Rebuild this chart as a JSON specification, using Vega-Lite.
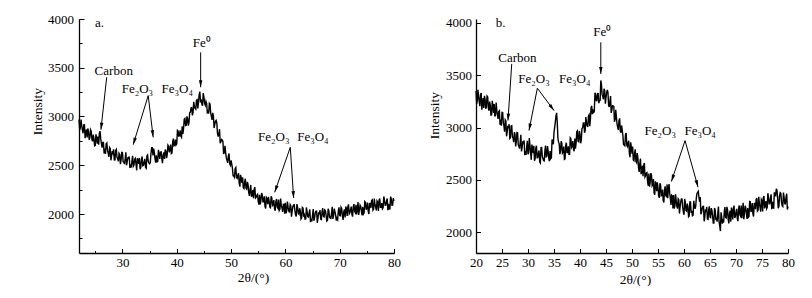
{
"$schema": "https://vega.github.io/schema/vega-lite/v6.json",
"padding": {"left": 30, "top": 13, "right": 0, "bottom": 0},
"bounds": "flush",
"spacing": 82,
"config": {
  "view": {"stroke": null},
  "font": "Liberation Serif",
  "axis": {"grid": false, "domainColor": "black", "domainWidth": 1.3, "tickColor": "black", "tickWidth": 1, "labelColor": "black", "titleColor": "black", "labelFont": "Liberation Serif", "titleFont": "Liberation Serif", "labelFontSize": 13, "titleFontSize": 13.5, "titleFontWeight": "normal", "labelFlush": false, "labelOverlap": false}
},
"datasets": {
  "a": [{"x":22,"y":2970},{"x":22.25,"y":2887},{"x":22.5,"y":2910},{"x":22.75,"y":2828},{"x":23,"y":2915},{"x":23.25,"y":2835},{"x":23.5,"y":2785},{"x":23.75,"y":2845},{"x":24,"y":2780},{"x":24.25,"y":2850},{"x":24.5,"y":2745},{"x":24.75,"y":2775},{"x":25,"y":2705},{"x":25.25,"y":2780},{"x":25.5,"y":2795},{"x":25.75,"y":2830},{"x":26,"y":2770},{"x":26.25,"y":2680},{"x":26.5,"y":2735},{"x":26.75,"y":2670},{"x":27,"y":2720},{"x":27.25,"y":2652},{"x":27.5,"y":2585},{"x":27.75,"y":2672},{"x":28,"y":2595},{"x":28.25,"y":2627},{"x":28.5,"y":2555},{"x":28.75,"y":2652},{"x":29,"y":2580},{"x":29.25,"y":2540},{"x":29.5,"y":2610},{"x":29.75,"y":2555},{"x":30,"y":2630},{"x":30.25,"y":2530},{"x":30.5,"y":2565},{"x":30.75,"y":2500},{"x":31,"y":2575},{"x":31.25,"y":2590},{"x":31.5,"y":2510},{"x":31.75,"y":2545},{"x":32,"y":2490},{"x":32.25,"y":2562},{"x":32.5,"y":2510},{"x":32.75,"y":2572},{"x":33,"y":2515},{"x":33.25,"y":2460},{"x":33.5,"y":2560},{"x":33.75,"y":2495},{"x":34,"y":2535},{"x":34.25,"y":2480},{"x":34.5,"y":2595},{"x":34.75,"y":2540},{"x":35,"y":2515},{"x":35.25,"y":2620},{"x":35.5,"y":2680},{"x":35.75,"y":2670},{"x":36,"y":2565},{"x":36.25,"y":2602},{"x":36.5,"y":2540},{"x":36.75,"y":2617},{"x":37,"y":2635},{"x":37.25,"y":2565},{"x":37.5,"y":2610},{"x":37.75,"y":2565},{"x":38,"y":2645},{"x":38.25,"y":2612},{"x":38.5,"y":2695},{"x":38.75,"y":2657},{"x":39,"y":2620},{"x":39.25,"y":2742},{"x":39.5,"y":2700},{"x":39.75,"y":2762},{"x":40,"y":2720},{"x":40.25,"y":2850},{"x":40.5,"y":2810},{"x":40.75,"y":2800},{"x":41,"y":2900},{"x":41.25,"y":2875},{"x":41.5,"y":2980},{"x":41.75,"y":2910},{"x":42,"y":2975},{"x":42.25,"y":2940},{"x":42.5,"y":3045},{"x":42.75,"y":3090},{"x":43,"y":3040},{"x":43.25,"y":3102},{"x":43.5,"y":3075},{"x":43.75,"y":3172},{"x":44,"y":3145},{"x":44.25,"y":3255},{"x":44.5,"y":3175},{"x":44.75,"y":3110},{"x":45,"y":3200},{"x":45.25,"y":3115},{"x":45.5,"y":3135},{"x":45.75,"y":3050},{"x":46,"y":3135},{"x":46.25,"y":3035},{"x":46.5,"y":2965},{"x":46.75,"y":3005},{"x":47,"y":2920},{"x":47.25,"y":2960},{"x":47.5,"y":2825},{"x":47.75,"y":2825},{"x":48,"y":2725},{"x":48.25,"y":2765},{"x":48.5,"y":2745},{"x":48.75,"y":2630},{"x":49,"y":2630},{"x":49.25,"y":2550},{"x":49.5,"y":2595},{"x":49.75,"y":2515},{"x":50,"y":2550},{"x":50.25,"y":2470},{"x":50.5,"y":2390},{"x":50.75,"y":2465},{"x":51,"y":2375},{"x":51.25,"y":2397},{"x":51.5,"y":2315},{"x":51.75,"y":2402},{"x":52,"y":2320},{"x":52.25,"y":2270},{"x":52.5,"y":2330},{"x":52.75,"y":2265},{"x":53,"y":2330},{"x":53.25,"y":2222},{"x":53.5,"y":2250},{"x":53.75,"y":2177},{"x":54,"y":2245},{"x":54.25,"y":2252},{"x":54.5,"y":2165},{"x":54.75,"y":2192},{"x":55,"y":2130},{"x":55.25,"y":2197},{"x":55.5,"y":2140},{"x":55.75,"y":2197},{"x":56,"y":2135},{"x":56.25,"y":2075},{"x":56.5,"y":2170},{"x":56.75,"y":2100},{"x":57,"y":2135},{"x":57.25,"y":2065},{"x":57.5,"y":2165},{"x":57.75,"y":2095},{"x":58,"y":2055},{"x":58.25,"y":2126},{"x":58.5,"y":2072},{"x":58.75,"y":2149},{"x":59,"y":2050},{"x":59.25,"y":2086},{"x":59.5,"y":2022},{"x":59.75,"y":2099},{"x":60,"y":2115},{"x":60.25,"y":2035},{"x":60.5,"y":2070},{"x":60.75,"y":2015},{"x":61,"y":2085},{"x":61.25,"y":2031},{"x":61.5,"y":2092},{"x":61.75,"y":2034},{"x":62,"y":1975},{"x":62.25,"y":2069},{"x":62.5,"y":1997},{"x":62.75,"y":2031},{"x":63,"y":1960},{"x":63.25,"y":2060},{"x":63.5,"y":1990},{"x":63.75,"y":1950},{"x":64,"y":2020},{"x":64.25,"y":1969},{"x":64.5,"y":2047},{"x":64.75,"y":1951},{"x":65,"y":1990},{"x":65.25,"y":1930},{"x":65.5,"y":2010},{"x":65.75,"y":2030},{"x":66,"y":1955},{"x":66.25,"y":1996},{"x":66.5,"y":1947},{"x":66.75,"y":2024},{"x":67,"y":1975},{"x":67.25,"y":2041},{"x":67.5,"y":1987},{"x":67.75,"y":1934},{"x":68,"y":2035},{"x":68.25,"y":1971},{"x":68.5,"y":2012},{"x":68.75,"y":1949},{"x":69,"y":2055},{"x":69.25,"y":1991},{"x":69.5,"y":1957},{"x":69.75,"y":2034},{"x":70,"y":1985},{"x":70.25,"y":2069},{"x":70.5,"y":1977},{"x":70.75,"y":2021},{"x":71,"y":1965},{"x":71.25,"y":2049},{"x":71.5,"y":2072},{"x":71.75,"y":2001},{"x":72,"y":2045},{"x":72.25,"y":1997},{"x":72.5,"y":2075},{"x":72.75,"y":2027},{"x":73,"y":2095},{"x":73.25,"y":2042},{"x":73.5,"y":1990},{"x":73.75,"y":2092},{"x":74,"y":2030},{"x":74.25,"y":2074},{"x":74.5,"y":2012},{"x":74.75,"y":2121},{"x":75,"y":2060},{"x":75.25,"y":2029},{"x":75.5,"y":2107},{"x":75.75,"y":2061},{"x":76,"y":2145},{"x":76.25,"y":2052},{"x":76.5,"y":2095},{"x":76.75,"y":2037},{"x":77,"y":2120},{"x":77.25,"y":2142},{"x":77.5,"y":2070},{"x":77.75,"y":2112},{"x":78,"y":2065},{"x":78.25,"y":2141},{"x":78.5,"y":2092},{"x":78.75,"y":2159},{"x":79,"y":2105},{"x":79.25,"y":2052},{"x":79.5,"y":2155},{"x":79.75,"y":2092},{"x":80,"y":2135},
{"x":22.125,"y":2861},{"x":22.375,"y":2968},{"x":22.625,"y":2861},{"x":22.875,"y":2914},{"x":23.125,"y":2777},{"x":23.375,"y":2867},{"x":23.625,"y":2877},{"x":23.875,"y":2762},{"x":24.125,"y":2865},{"x":24.375,"y":2765},{"x":24.625,"y":2815},{"x":24.875,"y":2700},{"x":25.125,"y":2817},{"x":25.375,"y":2722},{"x":25.625,"y":2710},{"x":25.875,"y":2850},{"x":26.125,"y":2725},{"x":26.375,"y":2735},{"x":26.625,"y":2622},{"x":26.875,"y":2617},{"x":27.125,"y":2728},{"x":27.375,"y":2626},{"x":27.625,"y":2683},{"x":27.875,"y":2551},{"x":28.125,"y":2646},{"x":28.375,"y":2663},{"x":28.625,"y":2556},{"x":28.875,"y":2663},{"x":29.125,"y":2567},{"x":29.375,"y":2622},{"x":29.625,"y":2512},{"x":29.875,"y":2632},{"x":30.125,"y":2537},{"x":30.375,"y":2512},{"x":30.625,"y":2632},{"x":30.875,"y":2537},{"x":31.125,"y":2572},{"x":31.375,"y":2472},{"x":31.625,"y":2477},{"x":31.875,"y":2597},{"x":32.125,"y":2503},{"x":32.375,"y":2571},{"x":32.625,"y":2448},{"x":32.875,"y":2551},{"x":33.125,"y":2575},{"x":33.375,"y":2475},{"x":33.625,"y":2590},{"x":33.875,"y":2500},{"x":34.125,"y":2565},{"x":34.375,"y":2470},{"x":34.625,"y":2605},{"x":34.875,"y":2525},{"x":35.125,"y":2525},{"x":35.375,"y":2680},{"x":35.625,"y":2600},{"x":35.875,"y":2630},{"x":36.125,"y":2528},{"x":36.375,"y":2536},{"x":36.625,"y":2658},{"x":36.875,"y":2566},{"x":37.125,"y":2637},{"x":37.375,"y":2522},{"x":37.625,"y":2632},{"x":37.875,"y":2662},{"x":38.125,"y":2573},{"x":38.375,"y":2706},{"x":38.625,"y":2633},{"x":38.875,"y":2711},{"x":39.125,"y":2626},{"x":39.375,"y":2773},{"x":39.625,"y":2706},{"x":39.875,"y":2708},{"x":40.125,"y":2857},{"x":40.375,"y":2792},{"x":40.625,"y":2857},{"x":40.875,"y":2787},{"x":41.125,"y":2822},{"x":41.375,"y":2972},{"x":41.625,"y":2907},{"x":41.875,"y":3002},{"x":42.125,"y":2907},{"x":42.375,"y":3037},{"x":42.625,"y":3087},{"x":42.875,"y":3012},{"x":43.125,"y":3151},{"x":43.375,"y":3083},{"x":43.625,"y":3166},{"x":43.875,"y":3083},{"x":44.125,"y":3225},{"x":44.375,"y":3145},{"x":44.625,"y":3125},{"x":44.875,"y":3240},{"x":45.125,"y":3135},{"x":45.375,"y":3155},{"x":45.625,"y":3040},{"x":45.875,"y":3030},{"x":46.125,"y":3127},{"x":46.375,"y":3002},{"x":46.625,"y":3037},{"x":46.875,"y":2882},{"x":47.125,"y":2950},{"x":47.375,"y":2935},{"x":47.625,"y":2795},{"x":47.875,"y":2870},{"x":48.125,"y":2740},{"x":48.375,"y":2760},{"x":48.625,"y":2615},{"x":48.875,"y":2700},{"x":49.125,"y":2575},{"x":49.375,"y":2525},{"x":49.625,"y":2620},{"x":49.875,"y":2500},{"x":50.125,"y":2512},{"x":50.375,"y":2392},{"x":50.625,"y":2377},{"x":50.875,"y":2477},{"x":51.125,"y":2366},{"x":51.375,"y":2418},{"x":51.625,"y":2281},{"x":51.875,"y":2368},{"x":52.125,"y":2377},{"x":52.375,"y":2262},{"x":52.625,"y":2362},{"x":52.875,"y":2257},{"x":53.125,"y":2303},{"x":53.375,"y":2186},{"x":53.625,"y":2298},{"x":53.875,"y":2196},{"x":54.125,"y":2163},{"x":54.375,"y":2276},{"x":54.625,"y":2173},{"x":54.875,"y":2201},{"x":55.125,"y":2096},{"x":55.375,"y":2098},{"x":55.625,"y":2216},{"x":55.875,"y":2118},{"x":56.125,"y":2182},{"x":56.375,"y":2057},{"x":56.625,"y":2157},{"x":56.875,"y":2177},{"x":57.125,"y":2072},{"x":57.375,"y":2182},{"x":57.625,"y":2087},{"x":57.875,"y":2142},{"x":58.125,"y":2033},{"x":58.375,"y":2154},{"x":58.625,"y":2060},{"x":58.875,"y":2037},{"x":59.125,"y":2158},{"x":59.375,"y":2064},{"x":59.625,"y":2100},{"x":59.875,"y":2002},{"x":60.125,"y":2007},{"x":60.375,"y":2127},{"x":60.625,"y":2032},{"x":60.875,"y":2097},{"x":61.125,"y":1973},{"x":61.375,"y":2074},{"x":61.625,"y":2095},{"x":61.875,"y":1992},{"x":62.125,"y":2102},{"x":62.375,"y":2005},{"x":62.625,"y":2059},{"x":62.875,"y":1948},{"x":63.125,"y":2067},{"x":63.375,"y":1972},{"x":63.625,"y":1947},{"x":63.875,"y":2067},{"x":64.125,"y":1974},{"x":64.375,"y":2013},{"x":64.625,"y":1916},{"x":64.875,"y":1925},{"x":65.125,"y":2050},{"x":65.375,"y":1960},{"x":65.625,"y":2030},{"x":65.875,"y":1910},{"x":66.125,"y":2016},{"x":66.375,"y":2041},{"x":66.625,"y":1943},{"x":66.875,"y":2059},{"x":67.125,"y":1970},{"x":67.375,"y":2032},{"x":67.625,"y":1928},{"x":67.875,"y":2054},{"x":68.125,"y":1965},{"x":68.375,"y":1947},{"x":68.625,"y":2073},{"x":68.875,"y":1984},{"x":69.125,"y":2025},{"x":69.375,"y":1932},{"x":69.625,"y":1943},{"x":69.875,"y":2069},{"x":70.125,"y":1982},{"x":70.375,"y":2055},{"x":70.625,"y":1939},{"x":70.875,"y":2048},{"x":71.125,"y":2077},{"x":71.375,"y":1981},{"x":71.625,"y":2099},{"x":71.875,"y":2013},{"x":72.125,"y":2076},{"x":72.375,"y":1973},{"x":72.625,"y":2101},{"x":72.875,"y":2013},{"x":73.125,"y":1996},{"x":73.375,"y":2123},{"x":73.625,"y":2036},{"x":73.875,"y":2078},{"x":74.125,"y":1987},{"x":74.375,"y":2000},{"x":74.625,"y":2129},{"x":74.875,"y":2043},{"x":75.125,"y":2117},{"x":75.375,"y":2000},{"x":75.625,"y":2109},{"x":75.875,"y":2138},{"x":76.125,"y":2041},{"x":76.375,"y":2158},{"x":76.625,"y":2071},{"x":76.875,"y":2133},{"x":77.125,"y":2031},{"x":77.375,"y":2158},{"x":77.625,"y":2071},{"x":77.875,"y":2053},{"x":78.125,"y":2180},{"x":78.375,"y":2091},{"x":78.625,"y":2133},{"x":78.875,"y":2039},{"x":79.125,"y":2051},{"x":79.375,"y":2178},{"x":79.625,"y":2091},{"x":79.875,"y":2163}],
  "b": [{"x":20,"y":3350},{"x":20.25,"y":3260},{"x":20.5,"y":3300},{"x":20.75,"y":3205},{"x":21,"y":3330},{"x":21.25,"y":3236},{"x":21.5,"y":3187},{"x":21.75,"y":3269},{"x":22,"y":3200},{"x":22.25,"y":3291},{"x":22.5,"y":3162},{"x":22.75,"y":3209},{"x":23,"y":3120},{"x":23.25,"y":3210},{"x":23.5,"y":3225},{"x":23.75,"y":3120},{"x":24,"y":3165},{"x":24.25,"y":3082},{"x":24.5,"y":3160},{"x":24.75,"y":3077},{"x":25,"y":3145},{"x":25.25,"y":3047},{"x":25.5,"y":2960},{"x":25.75,"y":3062},{"x":26,"y":2960},{"x":26.25,"y":2995},{"x":26.5,"y":2895},{"x":26.75,"y":3015},{"x":27,"y":2915},{"x":27.25,"y":2861},{"x":27.5,"y":2937},{"x":27.75,"y":2864},{"x":28,"y":2950},{"x":28.25,"y":2819},{"x":28.5,"y":2862},{"x":28.75,"y":2771},{"x":29,"y":2860},{"x":29.25,"y":2876},{"x":29.5,"y":2772},{"x":29.75,"y":2819},{"x":30,"y":2745},{"x":30.25,"y":2900},{"x":30.5,"y":2760},{"x":30.75,"y":2837},{"x":31,"y":2755},{"x":31.25,"y":2682},{"x":31.5,"y":2800},{"x":31.75,"y":2712},{"x":32,"y":2755},{"x":32.25,"y":2671},{"x":32.5,"y":2807},{"x":32.75,"y":2724},{"x":33,"y":2685},{"x":33.25,"y":2777},{"x":33.5,"y":2720},{"x":33.75,"y":2822},{"x":34,"y":2705},{"x":34.25,"y":2775},{"x":34.5,"y":2710},{"x":34.75,"y":2870},{"x":35,"y":2955},{"x":35.25,"y":3050},{"x":35.5,"y":3140},{"x":35.75,"y":2900},{"x":36,"y":2845},{"x":36.25,"y":2772},{"x":36.5,"y":2850},{"x":36.75,"y":2767},{"x":37,"y":2695},{"x":37.25,"y":2830},{"x":37.5,"y":2760},{"x":37.75,"y":2820},{"x":38,"y":2745},{"x":38.25,"y":2892},{"x":38.5,"y":2820},{"x":38.75,"y":2792},{"x":39,"y":2895},{"x":39.25,"y":2851},{"x":39.5,"y":2967},{"x":39.75,"y":2864},{"x":40,"y":2935},{"x":40.25,"y":2876},{"x":40.5,"y":2997},{"x":40.75,"y":3044},{"x":41,"y":2970},{"x":41.25,"y":3047},{"x":41.5,"y":3005},{"x":41.75,"y":3122},{"x":42,"y":3080},{"x":42.25,"y":3207},{"x":42.5,"y":3175},{"x":42.75,"y":3152},{"x":43,"y":3320},{"x":43.25,"y":3257},{"x":43.5,"y":3325},{"x":43.75,"y":3257},{"x":44,"y":3450},{"x":44.25,"y":3317},{"x":44.5,"y":3270},{"x":44.75,"y":3352},{"x":45,"y":3285},{"x":45.25,"y":3360},{"x":45.5,"y":3215},{"x":45.75,"y":3245},{"x":46,"y":3140},{"x":46.25,"y":3209},{"x":46.5,"y":3202},{"x":46.75,"y":3076},{"x":47,"y":3100},{"x":47.25,"y":3002},{"x":47.5,"y":3065},{"x":47.75,"y":2967},{"x":48,"y":3020},{"x":48.25,"y":2921},{"x":48.5,"y":2832},{"x":48.75,"y":2934},{"x":49,"y":2830},{"x":49.25,"y":2856},{"x":49.5,"y":2747},{"x":49.75,"y":2859},{"x":50,"y":2750},{"x":50.25,"y":2689},{"x":50.5,"y":2757},{"x":50.75,"y":2676},{"x":51,"y":2755},{"x":51.25,"y":2616},{"x":51.5,"y":2652},{"x":51.75,"y":2554},{"x":52,"y":2635},{"x":52.25,"y":2641},{"x":52.5,"y":2527},{"x":52.75,"y":2564},{"x":53,"y":2480},{"x":53.25,"y":2559},{"x":53.5,"y":2477},{"x":53.75,"y":2546},{"x":54,"y":2455},{"x":54.25,"y":2375},{"x":54.5,"y":2485},{"x":54.75,"y":2390},{"x":55,"y":2425},{"x":55.25,"y":2327},{"x":55.5,"y":2450},{"x":55.75,"y":2352},{"x":56,"y":2300},{"x":56.25,"y":2399},{"x":56.5,"y":2347},{"x":56.75,"y":2456},{"x":57,"y":2420},{"x":57.25,"y":2370},{"x":57.5,"y":2260},{"x":57.75,"y":2345},{"x":58,"y":2355},{"x":58.25,"y":2251},{"x":58.5,"y":2297},{"x":58.75,"y":2224},{"x":59,"y":2310},{"x":59.25,"y":2239},{"x":59.5,"y":2317},{"x":59.75,"y":2236},{"x":60,"y":2165},{"x":60.25,"y":2285},{"x":60.5,"y":2200},{"x":60.75,"y":2245},{"x":61,"y":2155},{"x":61.25,"y":2289},{"x":61.5,"y":2202},{"x":61.75,"y":2161},{"x":62,"y":2250},{"x":62.25,"y":2245},{"x":62.5,"y":2370},{"x":62.75,"y":2390},{"x":63,"y":2290},{"x":63.25,"y":2170},{"x":63.5,"y":2230},{"x":63.75,"y":2247},{"x":64,"y":2145},{"x":64.25,"y":2195},{"x":64.5,"y":2125},{"x":64.75,"y":2215},{"x":65,"y":2145},{"x":65.25,"y":2229},{"x":65.5,"y":2152},{"x":65.75,"y":2086},{"x":66,"y":2210},{"x":66.25,"y":2130},{"x":66.5,"y":2180},{"x":66.75,"y":2095},{"x":67,"y":2010},{"x":67.25,"y":2146},{"x":67.5,"y":2107},{"x":67.75,"y":2199},{"x":68,"y":2140},{"x":68.25,"y":2241},{"x":68.5,"y":2122},{"x":68.75,"y":2179},{"x":69,"y":2100},{"x":69.25,"y":2201},{"x":69.5,"y":2227},{"x":69.75,"y":2134},{"x":70,"y":2190},{"x":70.25,"y":2129},{"x":70.5,"y":2227},{"x":70.75,"y":2166},{"x":71,"y":2255},{"x":71.25,"y":2184},{"x":71.5,"y":2122},{"x":71.75,"y":2251},{"x":72,"y":2175},{"x":72.25,"y":2230},{"x":72.5,"y":2150},{"x":72.75,"y":2290},{"x":73,"y":2210},{"x":73.25,"y":2176},{"x":73.5,"y":2272},{"x":73.75,"y":2219},{"x":74,"y":2325},{"x":74.25,"y":2210},{"x":74.5,"y":2270},{"x":74.75,"y":2195},{"x":75,"y":2300},{"x":75.25,"y":2329},{"x":75.5,"y":2237},{"x":75.75,"y":2296},{"x":76,"y":2235},{"x":76.25,"y":2334},{"x":76.5,"y":2272},{"x":76.75,"y":2361},{"x":77,"y":2290},{"x":77.25,"y":2229},{"x":77.5,"y":2357},{"x":77.75,"y":2415},{"x":78,"y":2335},{"x":78.25,"y":2246},{"x":78.5,"y":2377},{"x":78.75,"y":2289},{"x":79,"y":2245},{"x":79.25,"y":2332},{"x":79.5,"y":2270},{"x":79.75,"y":2367},{"x":80,"y":2245},
{"x":20.125,"y":3225},{"x":20.375,"y":3360},{"x":20.625,"y":3245},{"x":20.875,"y":3315},{"x":21.125,"y":3170},{"x":21.375,"y":3281},{"x":21.625,"y":3303},{"x":21.875,"y":3179},{"x":22.125,"y":3300},{"x":22.375,"y":3186},{"x":22.625,"y":3248},{"x":22.875,"y":3119},{"x":23.125,"y":3255},{"x":23.375,"y":3140},{"x":23.625,"y":3105},{"x":23.875,"y":3240},{"x":24.125,"y":3121},{"x":24.375,"y":3153},{"x":24.625,"y":3026},{"x":24.875,"y":3018},{"x":25.125,"y":3143},{"x":25.375,"y":3016},{"x":25.625,"y":3073},{"x":25.875,"y":2916},{"x":26.125,"y":3017},{"x":26.375,"y":3032},{"x":26.625,"y":2902},{"x":26.875,"y":3017},{"x":27.125,"y":2898},{"x":27.375,"y":2954},{"x":27.625,"y":2820},{"x":27.875,"y":2952},{"x":28.125,"y":2834},{"x":28.375,"y":2798},{"x":28.625,"y":2931},{"x":28.875,"y":2815},{"x":29.125,"y":2855},{"x":29.375,"y":2736},{"x":29.625,"y":2738},{"x":29.875,"y":2874},{"x":30.125,"y":2761},{"x":30.375,"y":2833},{"x":30.625,"y":2691},{"x":30.875,"y":2803},{"x":31.125,"y":2826},{"x":31.375,"y":2703},{"x":31.625,"y":2826},{"x":31.875,"y":2713},{"x":32.125,"y":2780},{"x":32.375,"y":2661},{"x":32.625,"y":2808},{"x":32.875,"y":2704},{"x":33.125,"y":2681},{"x":33.375,"y":2828},{"x":33.625,"y":2726},{"x":33.875,"y":2778},{"x":34.125,"y":2677},{"x":34.375,"y":2702},{"x":34.625,"y":2885},{"x":34.875,"y":2840},{"x":35.125,"y":3000},{"x":35.375,"y":3110},{"x":35.625,"y":3050},{"x":35.875,"y":2860},{"x":36.125,"y":2746},{"x":36.375,"y":2868},{"x":36.625,"y":2756},{"x":36.875,"y":2818},{"x":37.125,"y":2700},{"x":37.375,"y":2855},{"x":37.625,"y":2760},{"x":37.875,"y":2745},{"x":38.125,"y":2901},{"x":38.375,"y":2808},{"x":38.625,"y":2871},{"x":38.875,"y":2773},{"x":39.125,"y":2798},{"x":39.375,"y":2959},{"x":39.625,"y":2870},{"x":39.875,"y":2967},{"x":40.125,"y":2850},{"x":40.375,"y":2991},{"x":40.625,"y":3043},{"x":40.875,"y":2950},{"x":41.125,"y":3101},{"x":41.375,"y":3018},{"x":41.625,"y":3111},{"x":41.875,"y":3013},{"x":42.125,"y":3191},{"x":42.375,"y":3128},{"x":42.625,"y":3146},{"x":42.875,"y":3333},{"x":43.125,"y":3258},{"x":43.375,"y":3326},{"x":43.625,"y":3233},{"x":43.875,"y":3261},{"x":44.125,"y":3411},{"x":44.375,"y":3298},{"x":44.625,"y":3371},{"x":44.875,"y":3228},{"x":45.125,"y":3332},{"x":45.375,"y":3337},{"x":45.625,"y":3197},{"x":45.875,"y":3302},{"x":46.125,"y":3169},{"x":46.375,"y":3208},{"x":46.625,"y":3056},{"x":46.875,"y":3170},{"x":47.125,"y":3033},{"x":47.375,"y":2976},{"x":47.625,"y":3088},{"x":47.875,"y":2951},{"x":48.125,"y":2973},{"x":48.375,"y":2839},{"x":48.625,"y":2825},{"x":48.875,"y":2947},{"x":49.125,"y":2818},{"x":49.375,"y":2874},{"x":49.625,"y":2715},{"x":49.875,"y":2812},{"x":50.125,"y":2819},{"x":50.375,"y":2683},{"x":50.625,"y":2791},{"x":50.875,"y":2665},{"x":51.125,"y":2715},{"x":51.375,"y":2576},{"x":51.625,"y":2703},{"x":51.875,"y":2579},{"x":52.125,"y":2535},{"x":52.375,"y":2661},{"x":52.625,"y":2538},{"x":52.875,"y":2569},{"x":53.125,"y":2442},{"x":53.375,"y":2435},{"x":53.625,"y":2564},{"x":53.875,"y":2443},{"x":54.125,"y":2507},{"x":54.375,"y":2357},{"x":54.625,"y":2462},{"x":54.875,"y":2477},{"x":55.125,"y":2348},{"x":55.375,"y":2466},{"x":55.625,"y":2348},{"x":55.875,"y":2406},{"x":56.125,"y":2284},{"x":56.375,"y":2438},{"x":56.625,"y":2341},{"x":56.875,"y":2325},{"x":57.125,"y":2460},{"x":57.375,"y":2325},{"x":57.625,"y":2352},{"x":57.875,"y":2227},{"x":58.125,"y":2225},{"x":58.375,"y":2361},{"x":58.625,"y":2248},{"x":58.875,"y":2319},{"x":59.125,"y":2177},{"x":59.375,"y":2290},{"x":59.625,"y":2314},{"x":59.875,"y":2193},{"x":60.125,"y":2317},{"x":60.375,"y":2207},{"x":60.625,"y":2272},{"x":60.875,"y":2147},{"x":61.125,"y":2289},{"x":61.375,"y":2183},{"x":61.625,"y":2156},{"x":61.875,"y":2300},{"x":62.125,"y":2222},{"x":62.375,"y":2330},{"x":62.625,"y":2380},{"x":62.875,"y":2330},{"x":63.125,"y":2335},{"x":63.375,"y":2190},{"x":63.625,"y":2246},{"x":63.875,"y":2103},{"x":64.125,"y":2217},{"x":64.375,"y":2242},{"x":64.625,"y":2122},{"x":64.875,"y":2247},{"x":65.125,"y":2139},{"x":65.375,"y":2208},{"x":65.625,"y":2086},{"x":65.875,"y":2230},{"x":66.125,"y":2125},{"x":66.375,"y":2100},{"x":66.625,"y":2245},{"x":66.875,"y":2060},{"x":67.125,"y":2190},{"x":67.375,"y":2081},{"x":67.625,"y":2093},{"x":67.875,"y":2239},{"x":68.125,"y":2135},{"x":68.375,"y":2216},{"x":68.625,"y":2083},{"x":68.875,"y":2204},{"x":69.125,"y":2235},{"x":69.375,"y":2121},{"x":69.625,"y":2253},{"x":69.875,"y":2149},{"x":70.125,"y":2222},{"x":70.375,"y":2105},{"x":70.625,"y":2254},{"x":70.875,"y":2153},{"x":71.125,"y":2132},{"x":71.375,"y":2280},{"x":71.625,"y":2179},{"x":71.875,"y":2233},{"x":72.125,"y":2127},{"x":72.375,"y":2142},{"x":72.625,"y":2292},{"x":72.875,"y":2192},{"x":73.125,"y":2278},{"x":73.375,"y":2149},{"x":73.625,"y":2275},{"x":73.875,"y":2312},{"x":74.125,"y":2202},{"x":74.375,"y":2337},{"x":74.625,"y":2237},{"x":74.875,"y":2312},{"x":75.125,"y":2197},{"x":75.375,"y":2345},{"x":75.625,"y":2244},{"x":75.875,"y":2223},{"x":76.125,"y":2372},{"x":76.375,"y":2270},{"x":76.625,"y":2324},{"x":76.875,"y":2218},{"x":77.125,"y":2232},{"x":77.375,"y":2380},{"x":77.625,"y":2350},{"x":77.875,"y":2400},{"x":78.125,"y":2228},{"x":78.375,"y":2344},{"x":78.625,"y":2370},{"x":78.875,"y":2252},{"x":79.125,"y":2378},{"x":79.375,"y":2271},{"x":79.625,"y":2338},{"x":79.875,"y":2216}],
  "labels": [
    {"p":"a","t":"Fe⁰","x":44.6,"y":3754},
    {"p":"a","t":"Carbon","x":28.4,"y":3470},
    {"p":"a","t":"Fe₂O₃","x":32.75,"y":3282},
    {"p":"a","t":"Fe₃O₄","x":40.1,"y":3282},
    {"p":"a","t":"Fe₂O₃","x":57.85,"y":2787},
    {"p":"a","t":"Fe₃O₄","x":65.07,"y":2787},
    {"p":"b","t":"Fe⁰","x":44.3,"y":3911},
    {"p":"b","t":"Carbon","x":27.96,"y":3663},
    {"p":"b","t":"Fe₂O₃","x":31.15,"y":3465},
    {"p":"b","t":"Fe₃O₄","x":38.98,"y":3465},
    {"p":"b","t":"Fe₂O₃","x":55.42,"y":2971},
    {"p":"b","t":"Fe₃O₄","x":63.1,"y":2971}
  ],
  "letters": [
    {"p":"a","t":"a.","x":24.94,"y":3959},
    {"p":"b","t":"b.","x":23.8,"y":4000}
  ],
  "arrows": [
    {"p":"a","x":44.4,"y":3658,"x2":44.4,"y2":3300},
    {"p":"a","x":27.1,"y":3402,"x2":26.04,"y2":2865},
    {"p":"a","x":34.74,"y":3214,"x2":31.98,"y2":2711},
    {"p":"a","x":34.74,"y":3214,"x2":35.66,"y2":2787},
    {"p":"a","x":60.9,"y":2684,"x2":58.03,"y2":2222},
    {"p":"a","x":60.9,"y":2684,"x2":61.52,"y2":2164},
    {"p":"b","x":44.0,"y":3815,"x2":44.0,"y2":3513},
    {"p":"b","x":26.87,"y":3608,"x2":26.15,"y2":3067},
    {"p":"b","x":31.8,"y":3376,"x2":30.19,"y2":2971},
    {"p":"b","x":31.8,"y":3376,"x2":35.0,"y2":3162},
    {"p":"b","x":60.2,"y":2875,"x2":57.58,"y2":2484},
    {"p":"b","x":60.2,"y":2875,"x2":62.7,"y2":2430}
  ]
},
"hconcat": [
  {
    "width": 315, "height": 234,
    "resolve": {"axis": {"x": "independent", "y": "independent"}},
    "layer": [
      {
        "data": {"name": "a"},
        "mark": {"type": "line", "color": "black", "strokeWidth": 1.4},
        "encoding": {
          "x": {"field": "x", "type": "quantitative", "scale": {"domain": [22, 80], "nice": false, "zero": false},
                "axis": {"orient": "bottom", "values": [30,40,50,60,70,80], "tickSize": -4.5, "labelPadding": 8, "title": "2θ/(°)", "titleX": 174, "titleY": 24, "titleBaseline": "middle", "titleAlign": "center"}},
          "y": {"field": "y", "type": "quantitative", "scale": {"domain": [1600, 4000], "nice": false, "zero": false},
                "axis": {"orient": "left", "values": [2000,2500,3000,3500,4000], "format": "d", "tickSize": -5, "labelPadding": 10.5, "title": "Intensity", "titleX": -42, "titleY": 92, "titleAngle": -90, "titleBaseline": "middle", "titleAlign": "center"}}
        }
      },
      {
        "data": {"name": "arrows"},
        "transform": [{"filter": "datum.p === 'a'"}],
        "mark": {"type": "rule", "color": "black", "strokeWidth": 1},
        "encoding": {
          "x": {"field": "x", "type": "quantitative", "axis": {"orient": "bottom", "values": [25,30,35,40,45,50,55,60,65,70,75,80], "labels": false, "domain": false, "title": null, "tickSize": -2.5}},
          "y": {"field": "y", "type": "quantitative", "axis": {"orient": "left", "values": [1750,2000,2250,2500,2750,3000,3250,3500,3750,4000], "labels": false, "domain": false, "title": null, "tickSize": -3}},
          "x2": {"field": "x2"},
          "y2": {"field": "y2"}
        }
      },
      {
        "data": {"name": "arrows"},
        "transform": [{"filter": "datum.p === 'a'"}, {"calculate": "atan2(-(datum.x2 - datum.x) * 5.431, (datum.y - datum.y2) * 0.0975) * 180 / PI", "as": "ang"}],
        "mark": {"type": "point", "shape": "M0,0L-0.25,-1L0.25,-1Z", "filled": true, "color": "black", "opacity": 1, "size": 196, "strokeWidth": 0},
        "encoding": {
          "x": {"field": "x2", "type": "quantitative", "axis": null},
          "y": {"field": "y2", "type": "quantitative", "axis": null},
          "angle": {"field": "ang", "type": "quantitative", "scale": null}
        }
      },
      {
        "data": {"name": "labels"},
        "transform": [{"filter": "datum.p === 'a'"}],
        "mark": {"type": "text", "font": "Liberation Serif", "fontSize": 13, "align": "center", "baseline": "middle", "color": "black"},
        "encoding": {
          "x": {"field": "x", "type": "quantitative", "axis": null},
          "y": {"field": "y", "type": "quantitative", "axis": null},
          "text": {"field": "t"}
        }
      },
      {
        "data": {"name": "letters"},
        "transform": [{"filter": "datum.p === 'a'"}],
        "mark": {"type": "text", "font": "Liberation Serif", "fontSize": 13, "align": "left", "baseline": "middle", "color": "black"},
        "encoding": {
          "x": {"field": "x", "type": "quantitative", "axis": null},
          "y": {"field": "y", "type": "quantitative", "axis": null},
          "text": {"field": "t"}
        }
      }
    ]
  },
  {
    "width": 312, "height": 234,
    "resolve": {"axis": {"x": "independent", "y": "independent"}},
    "layer": [
      {
        "data": {"name": "b"},
        "mark": {"type": "line", "color": "black", "strokeWidth": 1.4},
        "encoding": {
          "x": {"field": "x", "type": "quantitative", "scale": {"domain": [20, 80], "nice": false, "zero": false},
                "axis": {"orient": "bottom", "values": [20,25,30,35,40,45,50,55,60,65,70,75,80], "tickSize": -4.5, "labelPadding": 8, "title": "2θ/(°)", "titleX": 159, "titleY": 26, "titleBaseline": "middle", "titleAlign": "center"}},
          "y": {"field": "y", "type": "quantitative", "scale": {"domain": [1800, 4038], "nice": false, "zero": false},
                "axis": {"orient": "left", "values": [2000,2500,3000,3500,4000], "format": "d", "tickSize": -4.5, "labelPadding": 9, "title": "Intensity", "titleX": -42, "titleY": 96, "titleAngle": -90, "titleBaseline": "middle", "titleAlign": "center"}}
        }
      },
      {
        "data": {"name": "arrows"},
        "transform": [{"filter": "datum.p === 'b'"}],
        "mark": {"type": "rule", "color": "black", "strokeWidth": 1},
        "encoding": {
          "x": {"field": "x", "type": "quantitative", "axis": null},
          "y": {"field": "y", "type": "quantitative", "axis": null},
          "x2": {"field": "x2"},
          "y2": {"field": "y2"}
        }
      },
      {
        "data": {"name": "arrows"},
        "transform": [{"filter": "datum.p === 'b'"}, {"calculate": "atan2(-(datum.x2 - datum.x) * 5.2, (datum.y - datum.y2) * 0.10456) * 180 / PI", "as": "ang"}],
        "mark": {"type": "point", "shape": "M0,0L-0.25,-1L0.25,-1Z", "filled": true, "color": "black", "opacity": 1, "size": 196, "strokeWidth": 0},
        "encoding": {
          "x": {"field": "x2", "type": "quantitative", "axis": null},
          "y": {"field": "y2", "type": "quantitative", "axis": null},
          "angle": {"field": "ang", "type": "quantitative", "scale": null}
        }
      },
      {
        "data": {"name": "labels"},
        "transform": [{"filter": "datum.p === 'b'"}],
        "mark": {"type": "text", "font": "Liberation Serif", "fontSize": 13, "align": "center", "baseline": "middle", "color": "black"},
        "encoding": {
          "x": {"field": "x", "type": "quantitative", "axis": null},
          "y": {"field": "y", "type": "quantitative", "axis": null},
          "text": {"field": "t"}
        }
      },
      {
        "data": {"name": "letters"},
        "transform": [{"filter": "datum.p === 'b'"}],
        "mark": {"type": "text", "font": "Liberation Serif", "fontSize": 13, "align": "left", "baseline": "middle", "color": "black"},
        "encoding": {
          "x": {"field": "x", "type": "quantitative", "axis": null},
          "y": {"field": "y", "type": "quantitative", "axis": null},
          "text": {"field": "t"}
        }
      }
    ]
  }
]
}
